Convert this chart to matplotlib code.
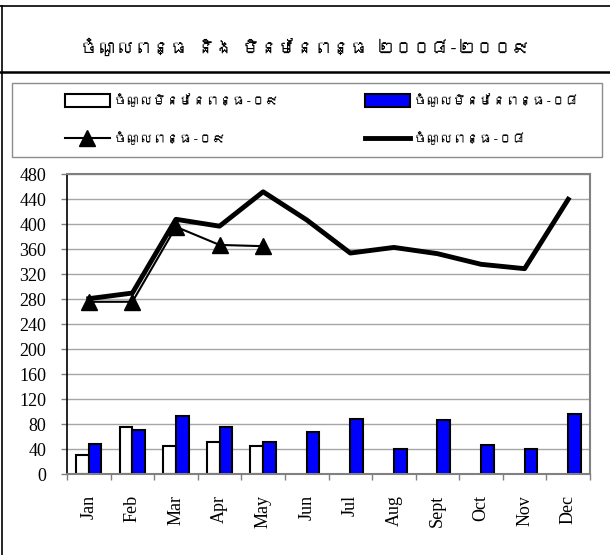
import matplotlib
matplotlib.use('Agg')
import numpy as np
from matplotlib import pyplot as plt
from matplotlib import font_manager
from matplotlib.ft2font import FT2Font
from matplotlib.lines import Line2D
from matplotlib.patches import Patch, Rectangle

months = ['Jan', 'Feb', 'Mar', 'Apr', 'May', 'Jun', 'Jul', 'Aug', 'Sept', 'Oct', 'Nov', 'Dec']
tax_08 = [281, 290, 408, 397, 452, 407, 354, 363, 353, 336, 329, 440]
tax_09 = [276, 276, 396, 367, 365]
nontax_08 = [49, 71, 93, 75, 51, 67, 89, 41, 87, 47, 41, 96]
nontax_09 = [31, 75, 46, 51, 45]
yticks = list(range(0, 481, 40))

title = 'ចំណូលពន្ធ និង មិនមែនពន្ធ ២០០៨-២០០៩'
lbl_nontax_09 = 'ចំណូលមិនមែនពន្ធ-០៩'
lbl_nontax_08 = 'ចំណូលមិនមែនពន្ធ-០៨'
lbl_tax_09 = 'ចំណូលពន្ធ-០៩'
lbl_tax_08 = 'ចំណូលពន្ធ-០៨'


def khmer_font():
    # take the first installed font that really has Khmer glyphs
    for f in font_manager.fontManager.ttflist:
        try:
            if 0x1785 in FT2Font(f.fname).get_charmap():
                return f.name
        except Exception:
            pass
    return 'DejaVu Sans'


kh = [khmer_font(), 'DejaVu Sans']
serif = 'Liberation Serif'

W, H = 610, 555
fig = plt.figure(figsize=(W / 100, H / 100), dpi=100)

# outer frame (only top and left are visible) and the title rule
fig.add_artist(Line2D([0, 1], [1 - 6 / H, 1 - 6 / H], color='black', lw=1.2, transform=fig.transFigure))
fig.add_artist(Line2D([1.5 / W, 1.5 / W], [0, 1 - 6 / H], color='black', lw=1.2, transform=fig.transFigure))
fig.add_artist(Line2D([0, 1], [1 - 72 / H, 1 - 72 / H], color='black', lw=1.8, transform=fig.transFigure))

fig.text(0.5, 1 - 47 / H, title, ha='center', va='center', fontsize=13, fontweight='bold', family=kh)

# legend box
fig.add_artist(Rectangle((11.7 / W, 1 - 156.7 / H), 590.3 / W, 74 / H, fill=False,
                         edgecolor='#8c8c8c', lw=1, transform=fig.transFigure))

h_w09 = Patch(facecolor='white', edgecolor='black', lw=1.5)
h_b08 = Patch(facecolor='#0000ff', edgecolor='black', lw=1.5)
h_t09 = Line2D([], [], color='black', lw=1.5, marker='^', markersize=12)
h_t08 = Line2D([], [], color='black', lw=3.5)

leg_kw = dict(loc='center left', frameon=False, handlelength=3.4, handleheight=1.1,
              handletextpad=0.25, labelspacing=1.85, borderpad=0, borderaxespad=0,
              prop={'family': kh, 'size': 9.5})
fig.legend([h_w09, h_t09], [lbl_nontax_09, lbl_tax_09],
           bbox_to_anchor=(65 / W, 1 - 119.5 / H), **leg_kw)
fig.legend([h_b08, h_t08], [lbl_nontax_08, lbl_tax_08],
           bbox_to_anchor=(365 / W, 1 - 119.5 / H), **leg_kw)

ax = fig.add_axes([67 / W, 1 - 474.3 / H, 523 / W, 300 / H])
x = np.arange(len(months))
x9 = x[:len(nontax_09)]
bw = 0.29

ax.bar(x9 - bw / 2, nontax_09, bw, color='white', edgecolor='black', lw=1.5, zorder=2)
ax.bar(x + bw / 2, nontax_08, bw, color='#0000ff', edgecolor='black', lw=1.5, zorder=2)
ax.plot(x, tax_08, color='black', lw=3.5, zorder=3)
ax.plot(x9, tax_09, color='black', lw=1.5, marker='^', markersize=12, zorder=4)

ax.set_xlim(-0.5, len(months) - 0.5)
ax.set_ylim(0, 480)
ax.set_yticks(yticks)
ax.set_yticklabels([str(v) for v in yticks], family=serif, fontsize=13)
ax.set_xticks(x)
ax.set_xticklabels(months, rotation=90, family=serif, fontsize=13)
ax.set_xticks(np.arange(-0.5, len(months)), minor=True)
ax.tick_params(axis='x', which='major', length=0, pad=15)
ax.tick_params(axis='x', which='minor', length=4, color='#808080', width=1)
ax.tick_params(axis='y', length=4, color='#808080', width=1, pad=11)

ax.yaxis.grid(True, color='#a6a6a6', lw=1)
ax.set_axisbelow(True)
ax.spines['left'].set_color('black')
ax.spines['left'].set_linewidth(1.2)
for s in ['top', 'right', 'bottom']:
    ax.spines[s].set_color('#808080')
    ax.spines[s].set_linewidth(1.5)

plt.savefig('out.png', dpi=100)
